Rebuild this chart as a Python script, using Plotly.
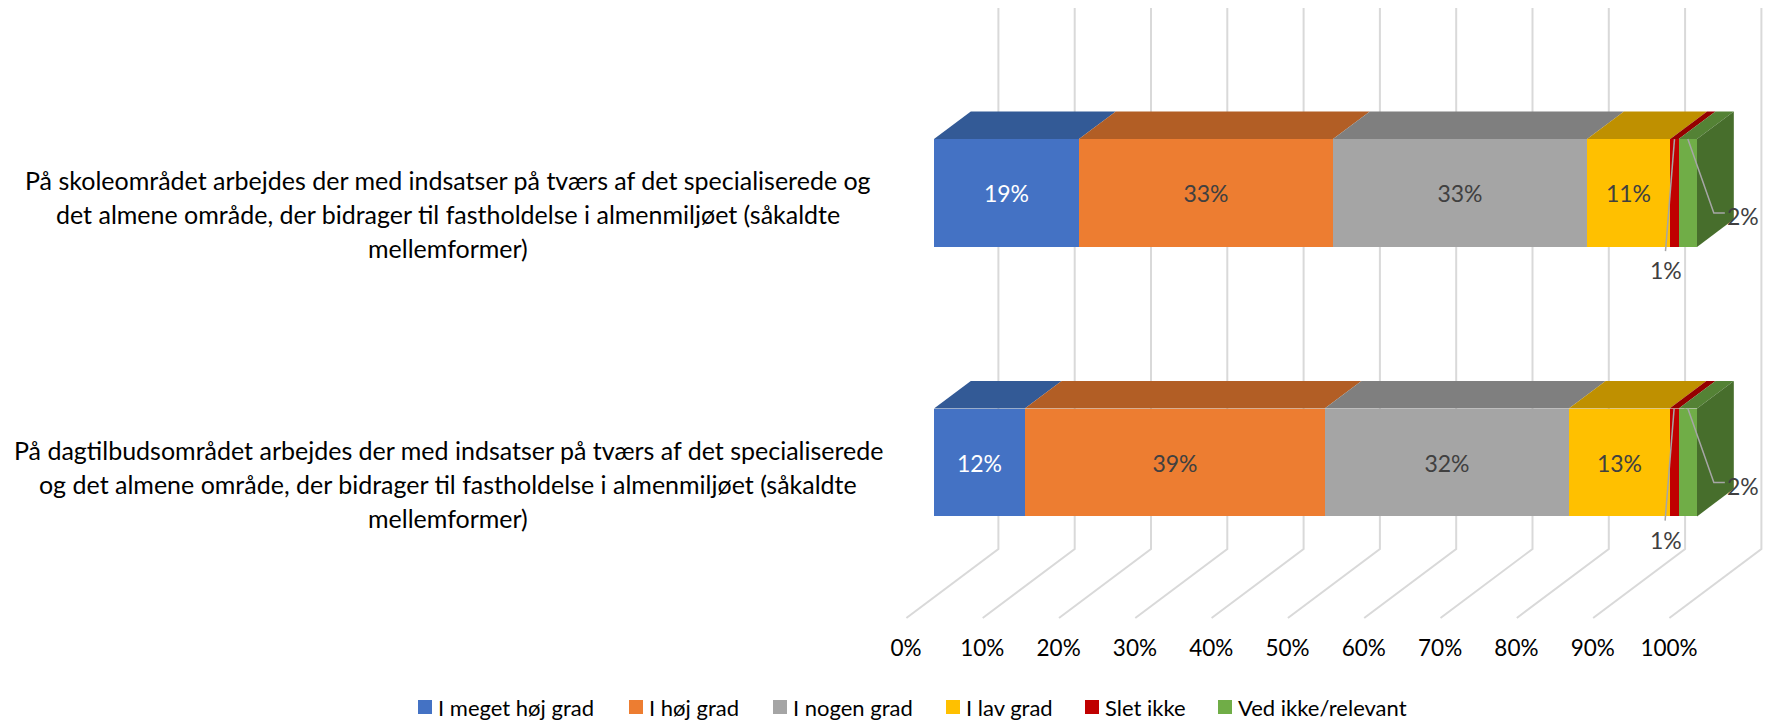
import plotly.graph_objects as go

# ---------------- data ----------------
category_lines = [
    ["På skoleområdet arbejdes der med indsatser på tværs af det specialiserede og",
     "det almene område, der bidrager til fastholdelse i almenmiljøet (såkaldte",
     "mellemformer)"],
    ["På dagtilbudsområdet arbejdes der med indsatser på tværs af det specialiserede",
     "og det almene område, der bidrager til fastholdelse i almenmiljøet (såkaldte",
     "mellemformer)"],
]
category_pos = [1, 0]

series_names = ["I meget høj grad", "I høj grad", "I nogen grad", "I lav grad",
                "Slet ikke", "Ved ikke/relevant"]
i_meget_hoej_grad = [19.0, 11.9]
i_hoej_grad = [33.3, 39.3]
i_nogen_grad = [33.3, 32.0]
i_lav_grad = [10.9, 13.2]
slet_ikke = [1.1, 1.2]
ved_ikke_relevant = [2.4, 2.4]
series_values = [i_meget_hoej_grad, i_hoej_grad, i_nogen_grad, i_lav_grad,
                 slet_ikke, ved_ikke_relevant]

tick_values = [0, 10, 20, 30, 40, 50, 60, 70, 80, 90, 100]
tick_labels = ["0%", "10%", "20%", "30%", "40%", "50%", "60%", "70%", "80%", "90%", "100%"]

# ---------------- style ----------------
front_colors = ["#4472C4", "#ED7D31", "#A5A5A5", "#FFC000", "#C00000", "#70AD47"]
top_colors = ["#335A96", "#B25E25", "#7F7F7F", "#BF9000", "#950000", "#548235"]
side_color = "#476E2C"
label_colors = ["#FFFFFF", "#404040", "#404040", "#404040", "#404040", "#404040"]
grid_color = "#D9D9D9"
leader_color = "#A6A6A6"
FONT = "Lato"
FS_CAT = 25
FS_TICK = 22.5
FS_DATA = 23
FS_LEG = 22

# the page body has an 8px margin: figure pixels = page pixels - PAGE_OFF
PAGE_OFF = 8
W, H = 1777 - PAGE_OFF, 720 - PAGE_OFF


def fx(p):  # page pixel column -> figure pixel column
    return p - PAGE_OFF


def fy(p):
    return p - PAGE_OFF


PLOT_L, PLOT_R, PLOT_T, PLOT_B = fx(880), W, fy(8), fy(622)
X_PX = 7.63              # pixels per percent on the bar front plane
X0_PX = fx(934)          # pixel of 0% on the bar front plane
Y_PX = 269.5             # pixels per category step
Y1_PX = fy(193)          # pixel of first category centre
BAR_W = 0.4

x_range = [(PLOT_L - X0_PX) / X_PX, (PLOT_R - X0_PX) / X_PX]
Y_TOP = category_pos[0] + (Y1_PX - PLOT_T) / Y_PX
y_range = [Y_TOP - (PLOT_B - PLOT_T) / Y_PX, Y_TOP]


def dx(px):
    return px / X_PX


def dy(px):  # pixel offset downward -> data offset
    return -px / Y_PX


def py(p):  # figure pixel row -> data y
    return Y_TOP - (p - PLOT_T) / Y_PX


def paper_x(p):  # figure pixel column -> paper x
    return (p - PLOT_L) / (PLOT_R - PLOT_L)


def paper_y(p):  # figure pixel row -> paper y
    return (PLOT_B - p) / (PLOT_B - PLOT_T)


# depth geometry (oblique projection): back wall f=0, floor front f=1
DEPTH_PX = (-92, 69)
F_BAR_FRONT, F_BAR_BACK, F_FLOOR = 0.70, 0.30, 1.0


def depth_off(f):
    return dx((f - F_BAR_FRONT) * DEPTH_PX[0]), dy((f - F_BAR_FRONT) * DEPTH_PX[1])


WALL_TOP_PX, WALL_FLOOR_PX = fy(8), fy(549)

fig = go.Figure()

# front faces
for k, (name, vals) in enumerate(zip(series_names, series_values)):
    fig.add_trace(go.Bar(
        name=name, x=vals, y=category_pos, orientation="h", width=BAR_W,
        marker=dict(color=front_colors[k], line=dict(width=0)),
        text=[f"{v:.0f}%" if v >= 5 else "" for v in vals],
        textposition="inside", insidetextanchor="middle", textangle=0,
        textfont=dict(family=FONT, size=FS_DATA, color=label_colors[k]),
        hoverinfo="name+x", showlegend=False,
    ))

shapes = []
# gridlines on back wall + floor
bwx, _ = depth_off(0.0)
ffx, _ = depth_off(F_FLOOR)
y_wall_top = py(WALL_TOP_PX)
y_wall_floor = py(WALL_FLOOR_PX)
y_floor_front = y_wall_floor + dy(F_FLOOR * DEPTH_PX[1])
for t in tick_values:
    shapes.append(dict(
        type="path", layer="below",
        path=f"M{t + bwx},{y_wall_top} L{t + bwx},{y_wall_floor} L{t + ffx},{y_floor_front}",
        line=dict(color=grid_color, width=2)))

# top faces and side face
bbx, bby = depth_off(F_BAR_BACK)
for i, pos in enumerate(category_pos):
    yt = pos + BAR_W / 2
    yb = pos - BAR_W / 2
    cum = 0.0
    for k, vals in enumerate(series_values):
        x0, x1 = cum, cum + vals[i]
        shapes.append(dict(
            type="path", layer="below",
            path=f"M{x0},{yt} L{x1},{yt} L{x1 + bbx},{yt + bby} L{x0 + bbx},{yt + bby} Z",
            fillcolor=top_colors[k], line=dict(width=0)))
        cum = x1
    shapes.append(dict(
        type="path", layer="below",
        path=f"M{cum},{yb} L{cum},{yt} L{cum + bbx},{yt + bby} L{cum + bbx},{yb + bby} Z",
        fillcolor=side_color, line=dict(width=0)))

annotations = []
# outside labels with leader lines for small segments
for i, pos in enumerate(category_pos):
    yt = pos + BAR_W / 2
    cum = sum(series_values[k][i] for k in range(4))
    red = series_values[4][i]
    green = series_values[5][i]
    xm_r = cum + red / 2
    xm_g = cum + red + green / 2
    shapes.append(dict(
        type="path", layer="above",
        path=f"M{xm_r},{yt} L{xm_r + dx(-9)},{yt + dy(112)}",
        line=dict(color=leader_color, width=1.5)))
    annotations.append(dict(
        x=xm_r + dx(-8), y=yt + dy(131), xref="x", yref="y", showarrow=False,
        text=f"{red:.0f}%", font=dict(family=FONT, size=FS_DATA, color="#404040"),
        xanchor="center", yanchor="middle"))
    shapes.append(dict(
        type="path", layer="above",
        path=(f"M{xm_g},{yt} L{xm_g + dx(26)},{yt + dy(74)} "
              f"L{xm_g + dx(37)},{yt + dy(74)}"),
        line=dict(color=leader_color, width=1.5)))
    annotations.append(dict(
        x=xm_g + dx(37), y=yt + dy(77), xref="x", yref="y", showarrow=False,
        text=f"{green:.0f}%", font=dict(family=FONT, size=FS_DATA, color="#404040"),
        xanchor="left", yanchor="middle"))

# category labels (centred multi-line)
LABEL_CX_PX = fx(448)
LINE_H = 34
LABEL_OFF = 21
for i, pos in enumerate(category_pos):
    n = len(category_lines[i])
    for j, line in enumerate(category_lines[i]):
        annotations.append(dict(
            x=paper_x(LABEL_CX_PX), xref="paper",
            y=pos, yref="y", yshift=-(LABEL_OFF + (j - (n - 1) / 2) * LINE_H),
            text=line, showarrow=False, xanchor="center", yanchor="middle",
            font=dict(family=FONT, size=FS_CAT, color="#000000")))

# legend row (squares + names)
LEG_ITEM_PX = [fx(p) for p in (418, 629, 773, 946, 1085, 1218)]
LEG_CY_PX = fy(707)
SQ = 14
for k, name in enumerate(series_names):
    x0 = LEG_ITEM_PX[k]
    shapes.append(dict(
        type="rect", xref="paper", yref="paper", layer="above",
        x0=paper_x(x0), x1=paper_x(x0 + SQ),
        y0=paper_y(LEG_CY_PX + SQ / 2), y1=paper_y(LEG_CY_PX - SQ / 2),
        fillcolor=front_colors[k], line=dict(width=0)))
    annotations.append(dict(
        x=paper_x(x0 + SQ + 4), y=paper_y(LEG_CY_PX), xref="paper", yref="paper",
        text=name, showarrow=False, xanchor="left", yanchor="middle",
        font=dict(family=FONT, size=FS_LEG, color="#000000")))

fig.update_layout(
    width=W, height=H,
    margin=dict(l=PLOT_L, r=W - PLOT_R, t=PLOT_T, b=H - PLOT_B, pad=0, autoexpand=False),
    paper_bgcolor="white", plot_bgcolor="white",
    barmode="stack", bargap=0,
    shapes=shapes, annotations=annotations,
    xaxis=dict(range=x_range, tickvals=tick_values, ticktext=tick_labels,
               showgrid=False, zeroline=False, showline=False, ticks="",
               ticklabelshift=round((F_FLOOR - F_BAR_FRONT) * DEPTH_PX[0]),
               ticklabelstandoff=10, automargin=False,
               tickfont=dict(family=FONT, size=FS_TICK, color="#000000"), fixedrange=True),
    yaxis=dict(range=y_range, visible=False, fixedrange=True),
    showlegend=False,
)

fig.write_html("out.html")
